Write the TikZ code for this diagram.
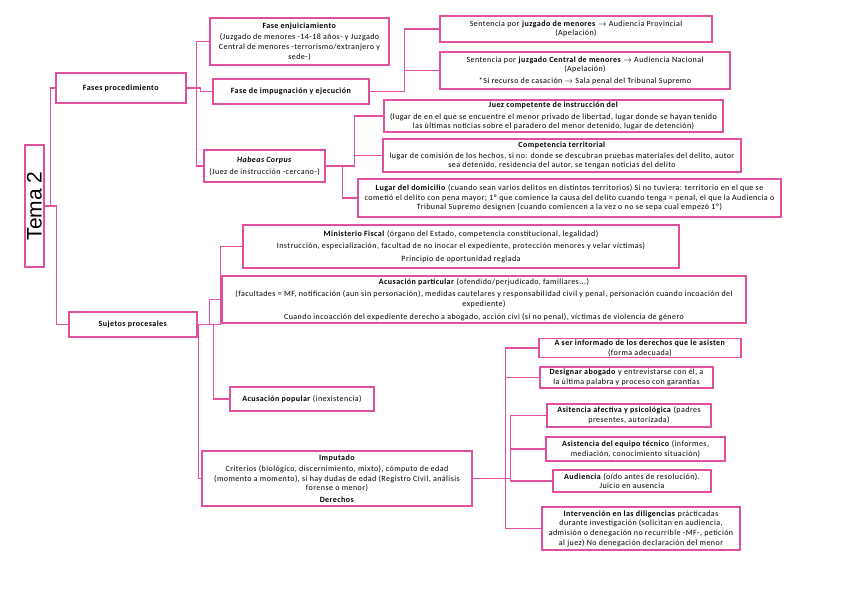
\documentclass[tikz,border=0pt]{standalone}
\usepackage{fontspec}
\setmainfont{Carlito}[LetterSpace=5.5]
\newfontfamily\temafont{Liberation Sans}
\usepackage{tikz}
\usetikzlibrary{positioning,calc}
\definecolor{tmpink}{HTML}{E0509E}

\begin{document}
\begin{tikzpicture}[x=1pt, y=-1pt,
  concept/.style={rectangle, draw=tmpink, line width=1.3pt, fill=white,
                  align=center, inner sep=1pt,
                  font=\fontsize{8}{9.6}\selectfont},
  link/.style={draw=tmpink, line width=1.2pt}
]
  \useasboundingbox (0,0) rectangle (848,599);
  % root
  \node[concept, minimum width=19pt, minimum height=122pt, inner sep=0pt] (tema) at (34.5,206)
        {\rotatebox{90}{\temafont\fontsize{21}{21}\selectfont Tema 2}};
  % fases
  \node[concept, minimum width=130pt, minimum height=30pt] (fases) at (121,88) {\textbf{Fases procedimiento}};
  \node[concept, minimum width=179pt, minimum height=47pt] (enjuic) at (299.5,41.5)
        {\textbf{Fase enjuiciamiento}\\[2pt](Juzgado de menores -14-18 años- y Juzgado\\Central de menores -terrorismo/extranjero y\\sede-)};
  \node[concept, minimum width=156pt, minimum height=25pt] (impug) at (291,91.5) {\textbf{Fase de impugnación y ejecución}};
  \node[concept, minimum width=121pt, minimum height=32pt] (habeas) at (264.5,166)
        {\textbf{\textit{Habeas Corpus}}\\[2pt](Juez de instrucción -cercano-)};
  \node[concept, minimum width=272pt, minimum height=26pt] (sentmen) at (576,29)
        {Sentencia por \textbf{juzgado de menores} $\rightarrow$ Audiencia Provincial\\(Apelación)};
  \node[concept, minimum width=290pt, minimum height=37pt] (sentcen) at (585,70.5)
        {Sentencia por \textbf{juzgado Central de menores} $\rightarrow$ Audiencia Nacional\\(Apelación)\\[2pt]*Si recurso de casación $\rightarrow$ Sala penal del Tribunal Supremo};
  \node[concept, minimum width=339pt, minimum height=32pt] (juez) at (553.5,116)
        {\textbf{Juez competente de instrucción del}\\[2pt](lugar de en el que se encuentre el menor privado de libertad, lugar donde se hayan tenido\\las últimas noticias sobre el paradero del menor detenido, lugar de detención)};
  \node[concept, minimum width=358pt, minimum height=33pt] (compet) at (562,155.5)
        {\textbf{Competencia territorial}\\[1pt]lugar de comisión de los hechos, si no: donde se descubran pruebas materiales del delito, autor\\sea detenido, residencia del autor, se tengan noticias del delito};
  \node[concept, minimum width=423pt, minimum height=38pt] (domic) at (569.5,198)
        {\textbf{Lugar del domicilio} (cuando sean varios delitos en distintos territorios) Si no tuviera: territorio en el que se\\cometió el delito con pena mayor; 1º que comience la causa del delito cuando tenga = penal, el que la Audiencia o\\Tribunal Supremo designen (cuando comiencen a la vez o no se sepa cual empezó 1º)};
  % sujetos
  \node[concept, minimum width=128pt, minimum height=25pt] (sujetos) at (133,324.5) {\textbf{Sujetos procesales}};
  \node[concept, minimum width=436pt, minimum height=43pt] (fiscal) at (461,246.5)
        {\textbf{Ministerio Fiscal} (órgano del Estado, competencia constitucional, legalidad)\\[3pt]Instrucción, especialización, facultad de no inocar el expediente, protección menores y velar víctimas)\\[3pt]Principio de oportunidad reglada};
  \node[concept, minimum width=524pt, minimum height=47pt] (acpart) at (484,299.5)
        {\textbf{Acusación particular} (ofendido/perjudicado, familiares...)\\[3pt](facultades = MF, notificación (aun sin personación), medidas cautelares y responsabilidad civil y penal, personación cuando incoación del\\expediente)\\[3pt]Cuando incoacción del expediente derecho a abogado, acción civi (si no penal), víctimas de violencia de género};
  \node[concept, minimum width=144pt, minimum height=24pt] (acpop) at (302,399) {\textbf{Acusación popular} (inexistencia)};
  \node[concept, minimum width=270pt, minimum height=55pt] (imput) at (337,478.5)
        {\textbf{Imputado}\\[2pt]Criterios (biológico, discernimiento, mixto), cómputo de edad\\(momento a momento), si hay dudas de edad (Registro Civil, análisis\\forense o menor)\\[2pt]\textbf{Derechos}};
  % derechos
  \node[concept, minimum width=202pt, minimum height=16pt] (informado) at (640,348)
        {\textbf{A ser informado de los derechos que le asisten}\\(forma adecuada)};
  \node[concept, minimum width=173pt, minimum height=21pt] (designar) at (626.5,377.5)
        {\textbf{Designar abogado} y entrevistarse con él, a\\la última palabra y proceso con garantías};
  \node[concept, minimum width=164pt, minimum height=23pt] (afectiva) at (629,415.5)
        {\textbf{Asitencia afectiva y psicológica} (padres\\presentes, autorizada)};
  \node[concept, minimum width=179pt, minimum height=24pt] (equipo) at (635.5,449)
        {\textbf{Asistencia del equipo técnico} (informes,\\mediación, conocimiento situación)};
  \node[concept, minimum width=158pt, minimum height=22pt] (audiencia) at (632,481)
        {\textbf{Audiencia} (oído antes de resolución).\\Juicio en ausencia};
  \node[concept, minimum width=198pt, minimum height=43pt] (interv) at (641,528.5)
        {\textbf{Intervención en las diligencias} prácticadas\\durante investigación (solicitan en audiencia,\\admisión o denegación no recurrible -MF-, petición\\al juez) No denegación declaración del menor};

  % connectors
  \draw[link] (tema.east) -- ++(6,0) |- (fases.west);
  \draw[link] (tema.east) -- ++(12,0) |- (sujetos.west);
  \draw[link] (fases.east) -- ++(10,0) |- (enjuic.west);
  \draw[link] (fases.east) -- ++(14,0) |- (impug.west);
  \draw[link] (fases.east) -- ++(10,0) |- (habeas.west);
  \draw[link] (impug.east) -- ++(35,0) |- (sentmen.west);
  \draw[link] (impug.east) -- ++(35,0) |- (sentcen.west);
  \draw[link] (habeas.east) -- ++(29,0) |- (juez.west);
  \draw[link] (habeas.east) -- ++(29,0) |- (compet.west);
  \draw[link] (habeas.east) -- ++(17,0) |- (domic.west);
  \draw[link] (sujetos.east) -- ++(23,0) |- (fiscal.west);
  \draw[link] (sujetos.east) -- ++(12,0) |- (acpart.west);
  \draw[link] (sujetos.east) -- ++(16,0) |- (acpop.west);
  \draw[link] (sujetos.east) -- ++(1,0) |- (imput.west);
  \draw[link] (imput.east) -- ++(33,0) |- (informado.west);
  \draw[link] (imput.east) -- ++(33,0) |- (designar.west);
  \draw[link] (imput.east) -- ++(38,0) |- (afectiva.west);
  \draw[link] (imput.east) -- ++(38,0) |- (equipo.west);
  \draw[link] (imput.east) -- ++(38,0) |- (audiencia.west);
  \draw[link] (imput.east) -- ++(33,0) |- (interv.west);
\end{tikzpicture}
\end{document}
